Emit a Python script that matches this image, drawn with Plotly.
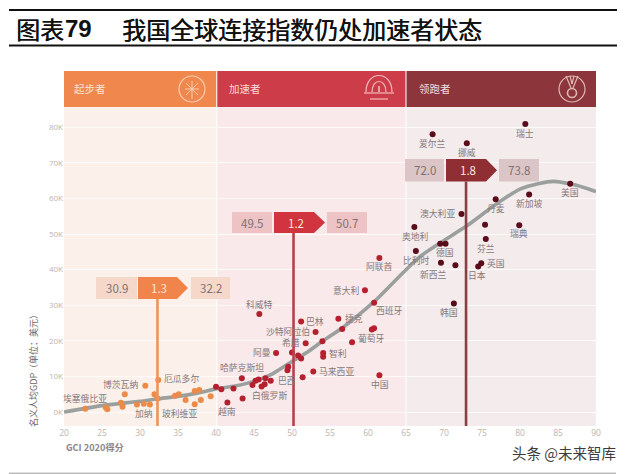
import plotly.graph_objects as go

# ---------- data ----------
orange_x = [22.8,25.5,25.7,27.5,27.7,28.0,29.6,30.5,31.3,30.7,31.9,32.3,32.4,34.6,35.1,36.0,37.2,37.8,37.2,38.0,39.3]
orange_y = [0.9,1.3,0.8,2.6,1.5,5.0,2.1,2.3,2.1,7.4,5.0,3.8,9.0,4.6,5.0,3.4,5.9,6.2,2.2,3.4,4.4]
red_x = [40.0,40.7,42.3,41.5,43.5,43.4,44.8,45.2,45.6,46.0,46.4,46.5,47.2,45.7,47.9,49.5,49.4,50.0,50.8,51.2,51.4,51.8,51.2,53.1,52.8,54.0,54.1,54.1,56.1,56.6,57.9,60.5,60.8,60.8,59.6,61.5,61.5]
red_y = [7.1,6.4,6.6,2.7,3.8,9.5,7.6,8.8,9.1,7.2,7.8,9.5,8.8,27.5,16.6,12.7,11.7,16.7,15.9,15.0,9.8,19.3,25.4,22.5,11.4,19.9,16.6,15.5,26.2,23.3,19.6,23.2,23.5,30.7,34.2,10.3,43.3]
dark_x = [68.5,73.0,80.7,86.6,81.2,76.8,72.3,75.4,79.9,66.1,69.5,70.2,75.5,66.3,69.6,71.5,74.9,74.5,71.3]
dark_y = [78.0,75.5,80.9,64.1,61.1,59.8,55.6,52.6,52.5,52.0,47.3,47.3,48.6,45.2,41.9,41.2,41.8,40.9,30.5]
curve_x = [20,25,30,32.3,35,37.5,40,42.5,45,47.5,50,52,54,56.6,60.8,66.8,73,76.8,80,82.5,84.4,86.6,88.5,90]
curve_y = [0,1.8,3.0,3.7,4.4,5.3,6.5,7.3,8.6,10.8,14.2,16.8,19.9,23.6,31.0,43.6,52.3,58.3,62.6,64.2,64.8,64.1,63.0,61.9]
names = ["埃塞俄比亚","博茨瓦纳","厄瓜多尔","加纳","玻利维亚","越南","哈萨克斯坦","白俄罗斯","巴西","阿曼","科威特","沙特阿拉伯","希腊","巴林","捷克","智利","马来西亚","葡萄牙","西班牙","意大利","中国","阿联酋","韩国","日本","英国","新西兰","比利时","德国","奥地利","澳大利亚","芬兰","瑞典","丹麦","新加坡","美国","瑞士","挪威","爱尔兰"]
name_x = [22.8,27.4,35.5,30.5,35.2,41.5,43.4,47.0,49.4,46.0,45.7,49.5,49.9,53.0,58.1,56.0,55.9,60.5,62.8,57.2,61.6,61.5,70.6,74.4,76.8,68.6,66.4,70.1,66.2,69.2,75.5,79.9,76.8,81.2,86.6,80.7,73.0,68.5]
name_y = [3.9,7.8,9.3,-0.5,-0.3,0.1,12.5,4.6,8.9,16.7,30.2,22.6,19.4,25.4,26.2,16.5,11.5,20.7,28.4,34.2,7.6,40.8,28.0,38.3,41.8,38.5,42.7,44.7,49.4,55.8,46.0,50.1,57.2,58.6,61.6,78.2,73.0,75.5]
zone_names = ["起步者","加速者","领跑者"]
zone_edges = [20,40.1,65,90]
left_vals = [30.9,49.5,72.0]
gap_vals = [1.3,1.2,1.8]
right_vals = [32.2,50.7,73.8]
line_x = [32.3,50.2,72.9]
x_ticks = list(range(20,95,5))
y_ticks = [0,10,20,30,40,50,60,70,80]
y_labels = [f"{v}K" for v in y_ticks]

# ---------- pixel helpers ----------
W,H = 640,474
L,R,T,B = 64,596,71,426
YMIN,YMAX = -3.93,95.8
def X(p): return 20+(p-L)*70/(R-L)
def Y(p): return YMIN+(B-p)*(YMAX-YMIN)/(B-T)
def PX(p): return (p-L)/(R-L)
def PY(p): return (B-p)/(B-T)

zone_head = ["#F0884E","#CC3D49","#8C353A"]
zone_bg = ["#FBF0EA","#F9E9EA","#F3EBEC"]
box_fill = ["#F6D8CA","#EDC3C6","#DCC5C6"]
arrow_fill = ["#F0844A","#D0343F","#8F2F33"]
vline = ["#EE9458","#B8404C","#8A3F45"]
GT = "#85797b"

shapes, ann = [], []
def rect(x0,x1,y0,y1,fill,layer="below"):
    shapes.append(dict(type="rect",xref="x",yref="y",x0=x0,x1=x1,y0=y0,y1=y1,fillcolor=fill,line_width=0,layer=layer))
def txt(x,y,s,size=9,color=GT,xref="x",yref="y",weight=None,shadow=None,family="Noto Sans CJK SC",xanchor="center",**k):
    f=dict(size=size,color=color,family=family)
    if weight: f["weight"]=weight
    if shadow: f["shadow"]=shadow
    ann.append(dict(x=x,y=y,text=s,xref=xref,yref=yref,showarrow=False,font=f,xanchor=xanchor,yanchor="middle",**k))

# zones
for i in range(3):
    a,b = zone_edges[i],zone_edges[i+1]
    gap = 0.07
    a2 = a+(gap if i else 0); b2 = b-(gap if i<2 else 0)
    rect(a2,b2,YMIN,Y(107),zone_bg[i])
    rect(a2,b2,Y(107),YMAX,zone_head[i])
txt(X(72),Y(88.5),zone_names[0],10.5,"#FBE3D3",xanchor="left")
txt(X(227),Y(88.5),zone_names[1],10.5,"#F7DADC",xanchor="left")
txt(X(417),Y(88.5),zone_names[2],10.5,"#F0DEDF",xanchor="left")

# callouts
geo = [ (96,137,138,188,191,230,277,299), (232,272,274,325,327,367,212,233), (405,444,446,497,499,539,159,181.5) ]
for i,g in enumerate(geo):
    a0,a1,b0,b1,c0,c1,t,bt = g
    shapes.append(dict(type="line",xref="x",yref="y",x0=line_x[i],x1=line_x[i],y0=Y(bt),y1=YMIN,line=dict(color=vline[i],width=2.6),layer="above"))
    rect(X(a0),X(a1),Y(bt),Y(t),box_fill[i],"above")
    rect(X(c0),X(c1),Y(bt),Y(t),box_fill[i],"above")
    m=(t+bt)/2
    path=f"M{X(b0)},{Y(t)} L{X(b1-11)},{Y(t)} L{X(b1)},{Y(m)} L{X(b1-11)},{Y(bt)} L{X(b0)},{Y(bt)} Z"
    shapes.append(dict(type="path",xref="x",yref="y",path=path,fillcolor=arrow_fill[i],line_width=0,layer="above"))
    txt(X((a0+a1)/2),Y(m),f"{left_vals[i]:.1f}",11.5,"#7f7173")
    txt(X((c0+c1)/2),Y(m),f"{right_vals[i]:.1f}",11.5,"#7f7173")
    txt(X((b0+b1-8)/2),Y(m),f"{gap_vals[i]:.1f}",11.5,"#FBE6DC")

# icons
def circ(cx,cy,r,color,w=1.2):
    shapes.append(dict(type="circle",xref="paper",yref="paper",x0=PX(cx-r),x1=PX(cx+r),y0=PY(cy+r),y1=PY(cy-r),line=dict(color=color,width=w),layer="above"))
def seg(x0,y0,x1,y1,color,w=1.2):
    shapes.append(dict(type="line",xref="paper",yref="paper",x0=PX(x0),x1=PX(x1),y0=PY(y0),y1=PY(y1),line=dict(color=color,width=w),layer="above"))
ic1="#F9CDB0"
circ(192,89,13,ic1)
for d in [(-6,-6,6,6),(6,-6,-6,6),(0,-8,0,10),(-7,0,7,0)]:
    seg(192+d[0],89+d[1],192+d[2],89+d[3],ic1,1)
ic2="#F3B9BC"
shapes.append(dict(type="path",xref="paper",yref="paper",line=dict(color=ic2,width=1.2),layer="above",
    path=f"M{PX(366)},{PY(92)} C{PX(366)},{PY(70)} {PX(392)},{PY(70)} {PX(392)},{PY(92)}"))
shapes.append(dict(type="path",xref="paper",yref="paper",line=dict(color=ic2,width=1.2),layer="above",
    path=f"M{PX(372)},{PY(92)} C{PX(372)},{PY(78)} {PX(386)},{PY(78)} {PX(386)},{PY(92)}"))
seg(364,93,394,93,ic2); seg(370,99,388,99,ic2)
seg(379,86,379,92,ic2,1.6)
ic3="#E0B9B6"
circ(572,89,13,ic3)
circ(572,93,4.5,ic3,1.6)
seg(566,76,571,88,ic3); seg(578,76,573,88,ic3); seg(570,76,572,84,ic3); seg(574,76,572,84,ic3)

# point labels
for n,x,y in zip(names,name_x,name_y):
    txt(x,y,n,8.8)

# frame text (paper coordinates may lie outside the plot area)
txt(PX(64),PY(446.5),"GCI 2020得分",9.2,"#8f8587",xref="paper",yref="paper",xanchor="left",weight=700)
txt(PX(33),PY(369),"名义人均GDP（单位：美元）",9,"#6f6567",xref="paper",yref="paper",textangle=-90)
TS="0.4px 0 0 #111111"
txt(PX(14),PY(28.5),"图表",24,"#111111",xref="paper",yref="paper",xanchor="left",shadow=TS)
txt(PX(63),PY(28.5),"<b>79</b>",24,"#111111",xref="paper",yref="paper",xanchor="left",family="Liberation Sans")
txt(PX(120),PY(28.5),"我国全球连接指数仍处加速者状态",24,"#111111",xref="paper",yref="paper",xanchor="left",shadow=TS)
txt(PX(510),PY(452.5),"头条 @未来智库",14.5,"#3c3c3c",xref="paper",yref="paper",xanchor="left")

# rules
def rule(y,x1,color,w):
    shapes.append(dict(type="line",xref="paper",yref="paper",x0=PX(9),x1=PX(x1),y0=PY(y),y1=PY(y),line=dict(color=color,width=w),layer="above"))
rule(10,617,"#111111",2)
rule(45.5,617,"#111111",2)
rule(473.2,616,"#9a9a9a",1)

fig = go.Figure()
fig.add_trace(go.Scatter(x=curve_x,y=curve_y,mode="lines",line=dict(color="#9BA09F",width=3.6,shape="spline",smoothing=0.6),hoverinfo="skip"))
fig.add_trace(go.Scatter(x=orange_x,y=orange_y,mode="markers",marker=dict(color="#EC8A47",size=6)))
fig.add_trace(go.Scatter(x=red_x,y=red_y,mode="markers",marker=dict(color="#B5202F",size=6)))
fig.add_trace(go.Scatter(x=dark_x,y=dark_y,mode="markers",marker=dict(color="#5A0C1B",size=6)))

fig.update_layout(
    width=W,height=H,showlegend=False,paper_bgcolor="white",plot_bgcolor="white",
    margin=dict(l=L,r=W-R,t=T,b=H-B,autoexpand=False),
    shapes=shapes,annotations=ann,
    font=dict(family="Noto Sans CJK SC",color="#b9b2b2",size=8),
    xaxis=dict(range=[20,90],tickvals=x_ticks,ticktext=[str(v) for v in x_ticks],showgrid=False,zeroline=False,showline=False,ticks="",tickfont=dict(size=8.5,color="#b9b4b4",family="Open Sans")),
    yaxis=dict(range=[YMIN,YMAX],tickvals=y_ticks,ticktext=y_labels,showgrid=True,gridcolor="rgba(255,255,255,0.75)",gridwidth=1,zeroline=False,showline=False,ticks="",tickfont=dict(size=8,color="#b9b4b4",family="Open Sans")),
)
fig.write_html("out.html",config=dict(displayModeBar=False),post_script="document.body.style.margin='0';")
